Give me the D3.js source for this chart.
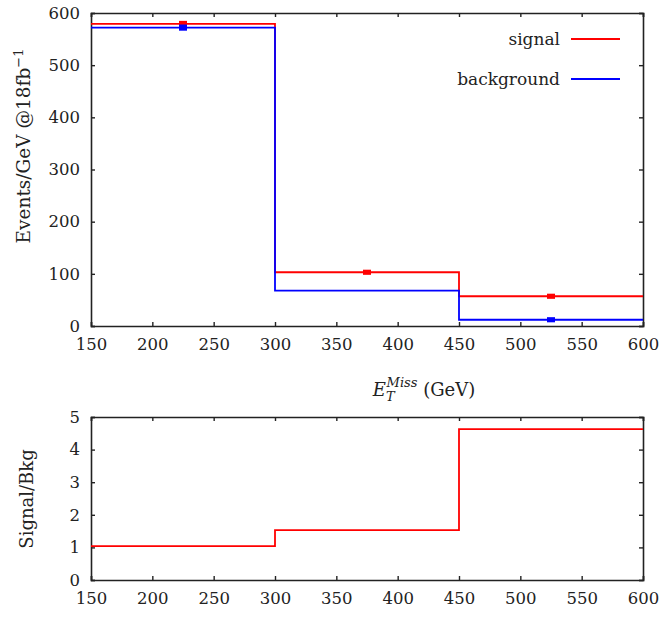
<!DOCTYPE html>
<html>
<head>
<meta charset="utf-8">
<script src="https://cdn.jsdelivr.net/npm/d3@7"></script>
<style>
  html, body { margin: 0; padding: 0; background: #fff; }
  svg { display: block; }
  text { font-family: "DejaVu Serif", "Liberation Serif", serif; fill: #222; }
</style>
</head>
<body>
<svg id="chart" width="669" height="619"></svg>
<script>
// ---- data ----
const binEdges = [150, 300, 450, 600];
const binCenters = [225, 375, 525];
const signal = [579, 103, 57];
const background = [572, 68, 12];
const signalErr = [4, 3, 3];
const backgroundErr = [4, 0, 3];
const ratio = [1.04, 1.53, 4.63];
const xTicks = [150, 200, 250, 300, 350, 400, 450, 500, 550, 600];
const yTopTicks = [0, 100, 200, 300, 400, 500, 600];
const yBotTicks = [0, 1, 2, 3, 4, 5];
const legendLabels = ["signal", "background"];

// ---- layout ----
const svg = d3.select("#chart");
const left = 91, right = 643;
const top1 = 13, bot1 = 326;
const top2 = 417, bot2 = 580;
const red = "#ff0000", blue = "#0000ff";
const fontSize = 16.5;

const x = d3.scaleLinear().domain([150, 600]).range([left, right]);
const yTop = d3.scaleLinear().domain([0, 600]).range([bot1, top1]);
const yBot = d3.scaleLinear().domain([0, 5]).range([bot2, top2]);

function stepPoints(vals) {
  const pts = binEdges.slice(0, -1).map((e, i) => [e, vals[i]]);
  pts.push([binEdges[binEdges.length - 1], vals[vals.length - 1]]);
  return pts;
}

function drawPanel(y, yTicks, yTop_, yBot_) {
  const g = svg.append("g");
  const tl = 4;
  g.append("g").attr("transform", `translate(0,${yBot_})`)
    .call(d3.axisBottom(x).tickValues(xTicks).tickSize(-tl).tickPadding(12).tickFormat(d3.format("d")));
  g.append("g").attr("transform", `translate(0,${yTop_})`)
    .call(d3.axisTop(x).tickValues(xTicks).tickSize(-tl).tickFormat(""));
  g.append("g").attr("transform", `translate(${left},0)`)
    .call(d3.axisLeft(y).tickValues(yTicks).tickSize(-tl).tickPadding(11).tickFormat(d3.format("d")));
  g.append("g").attr("transform", `translate(${right},0)`)
    .call(d3.axisRight(y).tickValues(yTicks).tickSize(-tl).tickFormat(""));
  g.selectAll(".domain").attr("stroke", "#222").attr("stroke-width", 1.6);
  g.selectAll(".tick line").attr("stroke", "#222").attr("stroke-width", 1.4);
  g.selectAll(".tick text").style("font-size", fontSize + "px")
    .style("font-family", '"DejaVu Serif", serif').attr("fill", "#222");
  return g;
}

// ---- top panel ----
drawPanel(yTop, yTopTicks, top1, bot1);

const lineTop = d3.line().x(d => x(d[0])).y(d => yTop(d[1])).curve(d3.curveStepAfter);
svg.append("path").datum(stepPoints(signal)).attr("d", lineTop)
  .attr("fill", "none").attr("stroke", red).attr("stroke-width", 1.8);
svg.append("path").datum(stepPoints(background)).attr("d", lineTop)
  .attr("fill", "none").attr("stroke", blue).attr("stroke-width", 1.8);

// error markers
function errMarks(vals, errs, color) {
  const pts = vals.map((v, i) => ({ v, e: errs[i], c: binCenters[i] })).filter(d => d.e > 0);
  svg.append("g").selectAll("rect").data(pts).join("rect")
    .attr("x", d => x(d.c) - 4)
    .attr("width", 8)
    .attr("y", d => yTop(d.v + d.e) - 1)
    .attr("height", d => yTop(d.v - d.e) - yTop(d.v + d.e) + 2)
    .attr("fill", color);
}
errMarks(signal, signalErr, red);
errMarks(background, backgroundErr, blue);

// legend
const legColors = [red, blue];
const leg = svg.append("g");
legendLabels.forEach((lab, i) => {
  const ly = 39 + i * 40;
  leg.append("text").attr("x", 560).attr("y", ly).attr("dy", "0.35em")
    .attr("text-anchor", "end").style("font-size", "17px").text(lab);
  leg.append("line").attr("x1", 571).attr("x2", 620).attr("y1", ly).attr("y2", ly)
    .attr("stroke", legColors[i]).attr("stroke-width", 1.8);
});

// y label top
svg.append("text")
  .attr("transform", `translate(30,${146}) rotate(-90)`)
  .attr("text-anchor", "middle")
  .style("font-size", "18.5px")
  .call(t => {
    t.append("tspan").text("Events/GeV @18fb");
    t.append("tspan").attr("dy", "-0.55em").style("font-size", "13px").text("−1");
  });

// x title
const xt = svg.append("text").attr("x", 424).attr("y", 396).attr("text-anchor", "middle")
  .style("font-size", "18px");
xt.append("tspan").style("font-style", "italic").text("E");
xt.append("tspan").attr("dy", "5").style("font-style", "italic").style("font-size", "13px").text("T");
xt.append("tspan").attr("dx", "-8").attr("dy", "-14").style("font-style", "italic").style("font-size", "13px").text("Miss");
xt.append("tspan").attr("dy", "9").text(" (GeV)");

// ---- bottom panel ----
drawPanel(yBot, yBotTicks, top2, bot2);
const lineBot = d3.line().x(d => x(d[0])).y(d => yBot(d[1])).curve(d3.curveStepAfter);
svg.append("path").datum(stepPoints(ratio)).attr("d", lineBot)
  .attr("fill", "none").attr("stroke", red).attr("stroke-width", 1.8);

svg.append("text")
  .attr("transform", `translate(33,${499}) rotate(-90)`)
  .attr("text-anchor", "middle")
  .style("font-size", "18px")
  .text("Signal/Bkg");
</script>
</body>
</html>
